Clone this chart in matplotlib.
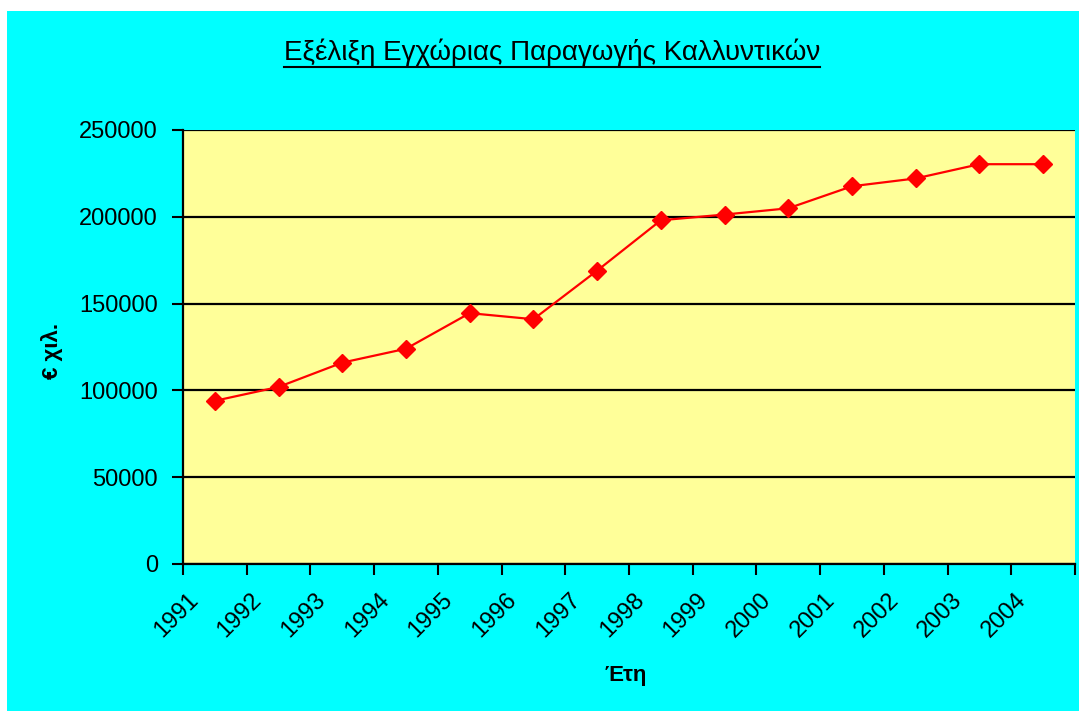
import matplotlib
matplotlib.use('Agg')
import matplotlib.pyplot as plt
from matplotlib.transforms import ScaledTranslation
import numpy as np

plt.rcParams['font.family'] = ['Liberation Sans', 'DejaVu Sans']

years = ['1991', '1992', '1993', '1994', '1995', '1996', '1997',
         '1998', '1999', '2000', '2001', '2002', '2003', '2004']
production = [94000, 102000, 116000, 124000, 144500, 141000, 169000,
              198000, 201300, 204900, 217600, 222100, 230300, 230300]
yticks = [0, 50000, 100000, 150000, 200000, 250000]

title = 'Εξέλιξη Εγχώριας Παραγωγής Καλλυντικών'
xlabel = 'Έτη'
ylabel = '€ χιλ.'

W, H = 1079, 711
fig = plt.figure(figsize=(W / 100, H / 100), dpi=100, facecolor='white')

# cyan chart area, offset from the top-left corner
bg = fig.add_axes([7 / W, 0, 1 - 7 / W, 1 - 11 / H], zorder=-10)
bg.set_facecolor('#00FFFF')
bg.set_xticks([])
bg.set_yticks([])
for s in bg.spines.values():
    s.set_visible(False)

ax = fig.add_axes([183 / W, 1 - 564 / H, (1075 - 183) / W, (564 - 130) / H])
ax.set_facecolor('#FFFF99')

x = np.arange(len(years))
ax.plot(x, production, color='#FF0000', lw=1.6, marker='D', ms=9,
        mec='#FF0000', mfc='#FF0000', zorder=3)

ax.set_xlim(-0.5, len(years) - 0.5)
ax.set_ylim(0, 250000)
ax.set_yticks(yticks)
ax.set_yticklabels([str(v) for v in yticks])
ax.yaxis.grid(True, color='black', lw=1.6)
ax.set_axisbelow(True)

# ticks between categories, labels at the category centres
ax.set_xticks(np.arange(-0.5, len(years)), minor=False)
ax.set_xticklabels([])
ax.set_xticks(x, minor=True)
ax.set_xticklabels(years, minor=True, rotation=45, ha='right', va='top',
                   rotation_mode='anchor', fontsize=17)
ax.tick_params(axis='x', which='minor', length=0, pad=14)
ax.tick_params(axis='x', which='major', length=8, width=1.5, direction='out')
ax.tick_params(axis='y', length=8, width=1.5, labelsize=17, pad=10)

# nudge the slanted year labels left of their category centre
shift = ScaledTranslation(-28 / 100, -5 / 100, fig.dpi_scale_trans)
for lab in ax.get_xticklabels(minor=True):
    lab.set_transform(lab.get_transform() + shift)

for side in ('top', 'right'):
    ax.spines[side].set_visible(False)
for side in ('left', 'bottom'):
    ax.spines[side].set_linewidth(1.6)

t = fig.text(552 / W, 1 - 52 / H, title, ha='center', va='center', fontsize=20)
fig.canvas.draw()
bb = t.get_window_extent()
fig.add_artist(plt.Line2D([bb.x0 / W, bb.x1 / W], [(H - 67) / H, (H - 67) / H],
                          transform=fig.transFigure, color='black', lw=1.5))

fig.text(52 / W, 1 - 351 / H, ylabel, rotation=90, ha='center', va='center',
         fontsize=16, fontweight='bold')
fig.text(626 / W, 1 - 676 / H, xlabel, ha='center', va='center',
         fontsize=16, fontweight='bold')

fig.savefig('out.png', dpi=100, facecolor=fig.get_facecolor())
